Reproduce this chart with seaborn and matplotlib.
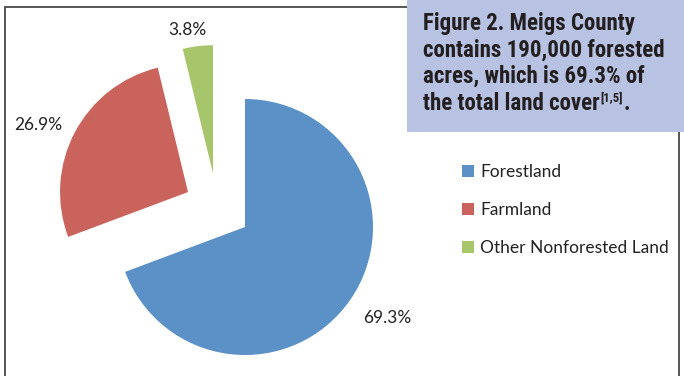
import matplotlib
matplotlib.use("Agg")
import matplotlib.pyplot as plt
from matplotlib import font_manager
from matplotlib.patches import Rectangle
import numpy as np
import seaborn as sns

# Land cover shares for Meigs County (percent)
categories = ["Forestland", "Farmland", "Other Nonforested Land"]
shares = [69.3, 26.9, 3.8]
pct_labels = [f"{v}%" for v in shares]
caption_lines = [
    "Figure 2. Meigs County",
    "contains 190,000 forested",
    "acres, which is 69.3% of",
    "the total land cover",
]
caption_sup = "[1,5]"

colors = ["#5b91c7", "#cb635d", "#a7c56b"]

sns.set_theme(style="white")
fonts = font_manager.fontManager.ttflist
available = {f.name for f in fonts}
body_font = "Lato" if "Lato" in available else "DejaVu Sans"
plt.rcParams["font.family"] = [body_font, "DejaVu Sans"]

# a narrow bold face for the caption
cap_family, cap_stretch = "Liberation Sans", "normal"
for name in ["Roboto Condensed", "Liberation Sans Narrow", "Open Sans Condensed"]:
    if name in available:
        cap_family = name
        break
else:
    if any(f.name == "DejaVu Sans" and f.stretch == "condensed" for f in fonts):
        cap_family, cap_stretch = "DejaVu Sans", "condensed"

W, H = 684, 376
fig = plt.figure(figsize=(W / 100, H / 100), dpi=100)
ax = fig.add_axes([0, 0, 1, 1])

# pie of radius 1 centred at pixel (245, 227 from top), 128 px per unit
R_PX, CX, CY = 128.0, 245.0, 227.0

label_size = 12.5
wedges, texts = ax.pie(
    shares, colors=colors, labels=pct_labels, startangle=90,
    counterclock=False, radius=1.0, labeldistance=1.3,
    wedgeprops=dict(linewidth=0),
    textprops=dict(fontsize=label_size, color="#222222"),
)
ax.set_xlim(-CX / R_PX, (W - CX) / R_PX)
ax.set_ylim(-(H - CY) / R_PX, CY / R_PX)
ax.set_aspect("equal", adjustable="box")
ax.axis("off")

# pulled-out slices, label distances and small angular nudges
offsets = [(0.0, 0.0), (-0.445, 0.273), (-0.25, 0.42)]
label_dist = [1.317, 1.284, 1.136]
label_turn = [2.0, 3.8, 3.1]
for w, t, off, d, turn in zip(wedges, texts, offsets, label_dist, label_turn):
    w.set_center(off)
    mid = np.deg2rad((w.theta1 + w.theta2) / 2 + turn)
    t.set_position((off[0] + d * np.cos(mid), off[1] + d * np.sin(mid)))
    t.set_ha("center")
    t.set_va("center")

# legend
leg = fig.legend(
    wedges, categories, loc="upper left",
    bbox_to_anchor=(455 / W, 1 - 157 / H), frameon=False,
    handlelength=0.7, handleheight=0.7, handletextpad=0.35,
    labelspacing=1.28, fontsize=label_size, borderaxespad=0,
)
for txt in leg.get_texts():
    txt.set_color("#222222")

# chart border
fig.patches.append(Rectangle((5 / W, -0.1), (679 - 5) / W, 1.1 - 7 / H,
                             transform=fig.transFigure, fill=False,
                             edgecolor="#555555", linewidth=1.4, zorder=1))

# caption box
fig.patches.append(Rectangle((407 / W, 1 - 132 / H), (W - 407) / W, 132 / H,
                             transform=fig.transFigure, facecolor="#b8c3e3",
                             edgecolor="none", zorder=2))

baselines = [30, 57, 83, 110]
cap_kw = dict(fontsize=15.5, fontweight="bold", color="#231f20",
              family=cap_family, fontstretch=cap_stretch,
              va="baseline", ha="left", zorder=3)
cap_texts = [fig.text(423 / W, 1 - yb / H, line, **cap_kw)
             for line, yb in zip(caption_lines, baselines)]

# fit the widest caption line into the box
fig.canvas.draw()
r = fig.canvas.get_renderer()
widest = max(t.get_window_extent(r).width for t in cap_texts)
size = min(16.5, 15.5 * 244 / widest)
for t in cap_texts:
    t.set_fontsize(size)
cap_kw["fontsize"] = size

fig.canvas.draw()
bb = cap_texts[-1].get_window_extent(r)
sup = fig.text(bb.x1 / W + 0.001, 1 - (baselines[-1] - 8) / H, caption_sup,
               **{**cap_kw, "fontsize": size * 0.55})
fig.canvas.draw()
bb2 = sup.get_window_extent(r)
fig.text(bb2.x1 / W + 0.001, 1 - baselines[-1] / H, ".", **cap_kw)

fig.savefig("out.png", dpi=100)
